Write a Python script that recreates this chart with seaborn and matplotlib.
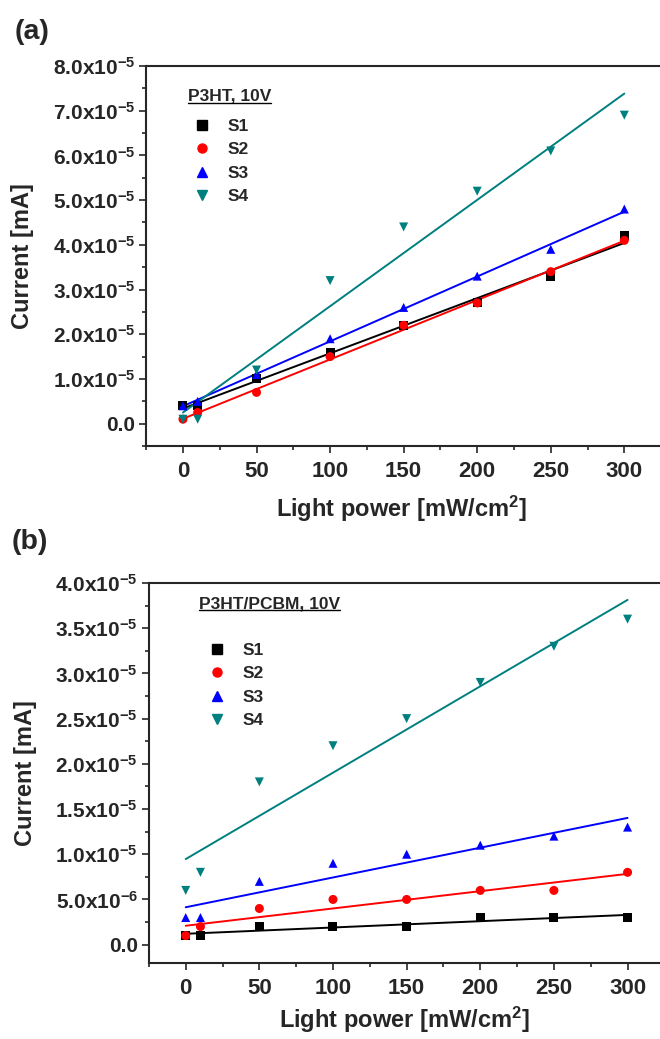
import numpy as np
import pandas as pd
import matplotlib.pyplot as plt
import seaborn as sns
from matplotlib.lines import Line2D
from matplotlib.ticker import FuncFormatter, MultipleLocator

# light power levels (mW/cm2)
power = [0, 10, 50, 100, 150, 200, 250, 300]
samples = ["S1", "S2", "S3", "S4"]
colors = ["#000000", "#ff0000", "#0000ff", "#007f7f"]
markers = ["s", "o", "^", "v"]

# panel (a): P3HT, 10V  -- current in mA
a_s1 = [4.0e-6, 4.0e-6, 1.0e-5, 1.6e-5, 2.2e-5, 2.7e-5, 3.3e-5, 4.2e-5]
a_s2 = [1.0e-6, 2.5e-6, 7.0e-6, 1.5e-5, 2.2e-5, 2.7e-5, 3.4e-5, 4.1e-5]
a_s3 = [4.0e-6, 5.0e-6, 1.1e-5, 1.9e-5, 2.6e-5, 3.3e-5, 3.9e-5, 4.8e-5]
a_s4 = [1.0e-6, 1.0e-6, 1.2e-5, 3.2e-5, 4.4e-5, 5.2e-5, 6.1e-5, 6.9e-5]

# panel (b): P3HT/PCBM, 10V
b_s1 = [1.0e-6, 1.0e-6, 2.0e-6, 2.0e-6, 2.0e-6, 3.0e-6, 3.0e-6, 3.0e-6]
b_s2 = [1.0e-6, 2.0e-6, 4.0e-6, 5.0e-6, 5.0e-6, 6.0e-6, 6.0e-6, 8.0e-6]
b_s3 = [3.0e-6, 3.0e-6, 7.0e-6, 9.0e-6, 1.0e-5, 1.1e-5, 1.2e-5, 1.3e-5]
b_s4 = [6.0e-6, 8.0e-6, 1.8e-5, 2.2e-5, 2.5e-5, 2.9e-5, 3.3e-5, 3.6e-5]

sns.set_style("ticks")
plt.rcParams['font.family'] = ['Liberation Sans', 'DejaVu Sans']
plt.rcParams['font.weight'] = 'bold'
plt.rcParams['mathtext.fontset'] = 'custom'
plt.rcParams['mathtext.rm'] = 'Liberation Sans:bold'
plt.rcParams['mathtext.bf'] = 'Liberation Sans:bold'
plt.rcParams['mathtext.it'] = 'Liberation Sans:bold'
plt.rcParams['mathtext.default'] = 'rm'


def sci_fmt(v, pos):
    if abs(v) < 1e-12:
        return "0.0"
    exp = int(np.floor(np.log10(abs(v)) + 1e-9))
    man = v / 10.0 ** exp
    return f"{man:.1f}x10$^{{{exp}}}$"


def long_frame(cols):
    rows = []
    for name, vals in zip(samples, cols):
        for p, v in zip(power, vals):
            rows.append({"power": p, "current": v, "sample": name})
    return pd.DataFrame(rows)


def draw_panel(ax, cols, ylim, ymajor, title, title_xy, leg_anchor, xlab_y):
    df = long_frame(cols)
    sns.scatterplot(data=df, x="power", y="current", hue="sample", style="sample",
                    palette=dict(zip(samples, colors)), markers=dict(zip(samples, markers)),
                    s=42, linewidth=0, legend=False, ax=ax, zorder=3)
    for vals, c in zip(cols, colors):
        sns.regplot(x=power, y=vals, ax=ax, scatter=False, ci=None, truncate=True,
                    color=c, line_kws={"lw": 1.4})

    ax.set_xlim(-25, 340)
    ax.set_ylim(*ylim)
    ax.xaxis.set_major_locator(MultipleLocator(50))
    ax.xaxis.set_minor_locator(MultipleLocator(25))
    ax.yaxis.set_major_locator(MultipleLocator(ymajor))
    ax.yaxis.set_minor_locator(MultipleLocator(ymajor / 2))
    ax.yaxis.set_major_formatter(FuncFormatter(sci_fmt))
    ax.tick_params(which="major", direction="out", length=5, width=1.2)
    ax.tick_params(which="minor", direction="out", length=3, width=1.2)
    ax.tick_params(axis="y", which="major", labelsize=15, pad=3)
    ax.tick_params(axis="x", which="major", labelsize=16, pad=6)
    for sp in ax.spines.values():
        sp.set_linewidth(1.5)

    ax.set_xlabel("Light power [mW/cm$^{2}$]", fontsize=17, fontweight="bold")
    ax.set_ylabel("Current [mA]", fontsize=17, fontweight="bold")
    ax.xaxis.set_label_coords(0.475, xlab_y)
    ax.yaxis.set_label_coords(-0.209, 0.5)

    ttl = ax.text(title_xy[0], title_xy[1], title, transform=ax.transAxes,
                  fontsize=12.5, fontweight="bold", ha="left", va="center")

    handles = [Line2D([], [], marker=m, color=c, linestyle="none", markersize=6.5)
               for m, c in zip(markers, colors)]
    ax.legend(handles, samples, loc="upper left", bbox_to_anchor=leg_anchor,
              frameon=False, borderpad=0, borderaxespad=0, fontsize=12.5,
              handlelength=1.6, handletextpad=0.7, labelspacing=0.47)
    return ttl


fig = plt.figure(figsize=(6.6, 10.39), dpi=100)
ax_a = fig.add_axes([0.2215, 0.5707, 0.8136, 0.3658])
ax_b = fig.add_axes([0.2256, 0.0734, 0.8145, 0.3655])

ttl_a = draw_panel(ax_a, [a_s1, a_s2, a_s3, a_s4], (-5e-6, 8e-5), 1e-5,
                   "P3HT, 10V", (0.078, 0.921), (0.078, 0.861), -0.126)
ttl_b = draw_panel(ax_b, [b_s1, b_s2, b_s3, b_s4], (-2e-6, 4e-5), 5e-6,
                   "P3HT/PCBM, 10V", (0.093, 0.945), (0.1006, 0.842), -0.111)

fig.text(0.022, 0.969, "(a)", fontsize=20.5, fontweight="bold", va="center")
fig.text(0.017, 0.478, "(b)", fontsize=20.5, fontweight="bold", va="center")

# underline the small titles above the legends
fig.canvas.draw()
inv = fig.transFigure.inverted()
for ttl in (ttl_a, ttl_b):
    bb = ttl.get_window_extent()
    (x0, y0), (x1, _) = inv.transform([(bb.x0, bb.y0 + 1), (bb.x1, bb.y0 + 1)])
    fig.add_artist(Line2D([x0, x1], [y0, y0], color="black", lw=1.0))

fig.savefig("out.png", dpi=100)
